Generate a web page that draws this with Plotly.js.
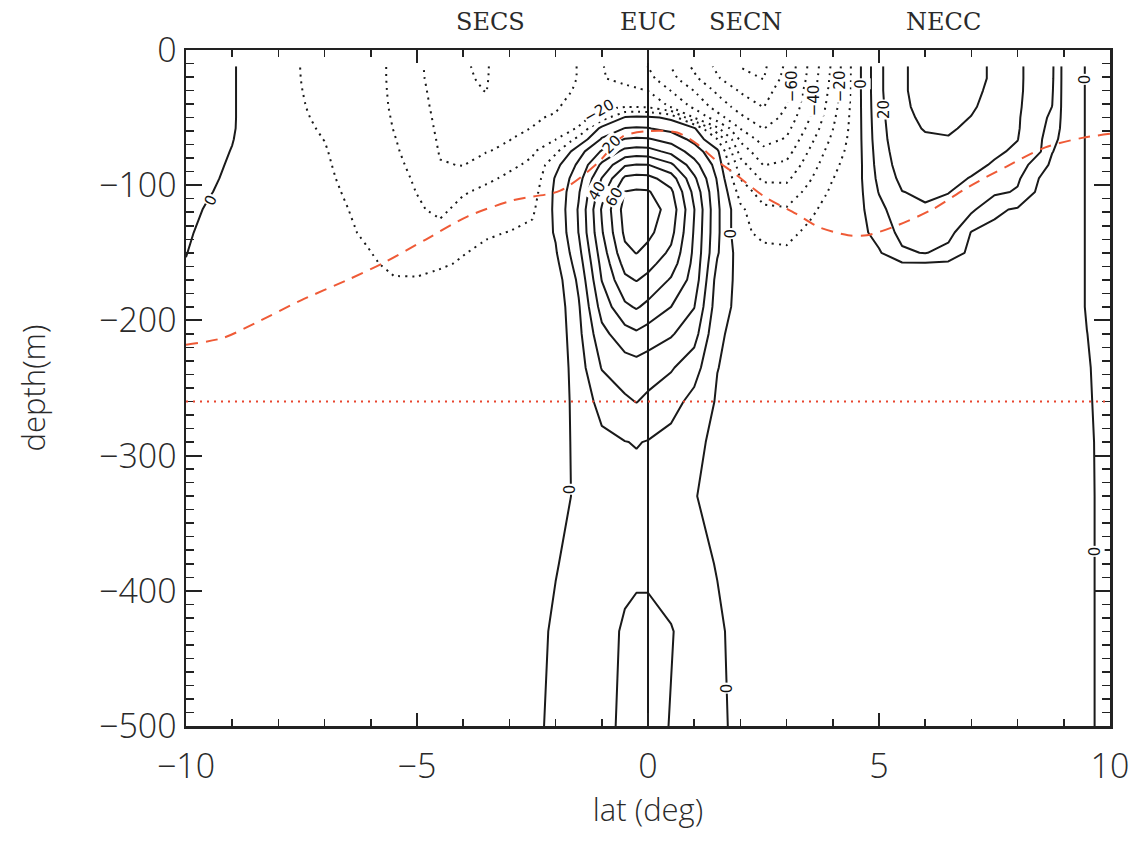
<!DOCTYPE html>
<html>
<head>
<meta charset="utf-8">
<script src="https://cdn.plot.ly/plotly-3.0.1.min.js"></script>
<style>
  html, body { margin: 0; padding: 0; background: #fff; }
  #chart { width: 1145px; height: 841px; }
</style>
</head>
<body>
<div id="chart"></div>
<script>
// Latitude of each grid column (deg) and depth of each grid row (m)
const lat = [-10, -9.5, -9, -8.5, -8, -7.5, -7, -6.5, -6, -5.5, -5, -4.5, -4, -3.5, -3, -2.5, -2, -1.5, -1, -0.5, -0.25,
             0, 0.5, 1, 1.5, 2, 2.5, 3, 3.5, 4, 4.5, 5, 5.5, 6, 6.5, 7, 7.5, 8, 8.5, 8.75, 9, 9.5, 10];
const depth = [-12, -21, -30, -42, -50, -58, -66, -75, -85, -95, -105, -118, -135, -150, -158, -170, -190,
               -210, -235, -260, -290, -330, -380, -430, -500];

// Zonal velocity (cm/s): one list per latitude, values from the top level down
const zonalVelocity = [
  [4, 4, 4, 4, 4, 4, 4, 4, 4, 4, 3, 2, 1, 0.2, -0.3, -1, -2, -3, -3, -3, -3, -3, -3, -3, -3],
  [3, 3, 3, 3, 3, 3, 3, 2.5, 2, 1.2, 0.4, -0.8, -2, -3, -3, -3, -3, -3, -3, -3, -3, -3, -3, -3, -3],
  [0.8, 0.8, 0.8, 0.8, 0.8, 0.7, 0.3, -0.3, -1, -1.5, -2, -2.5, -3, -3, -3, -3, -3, -3, -3, -3, -3, -3, -3, -3, -3],
  [-4, -4, -4, -4, -4, -4, -4, -4, -4, -4, -4, -4, -4, -3.5, -3.3, -3, -3, -3, -3, -3, -3, -3, -3, -3, -3],
  [-7, -7, -7, -7, -6.5, -6.5, -6, -6, -6, -5.5, -5, -5, -4.5, -4, -3.8, -3.5, -3, -3, -3, -3, -3, -3, -3, -3, -3],
  [-10.2, -10.1, -9.9, -9.6, -9.3, -9, -8.6, -8.2, -7.8, -7.4, -7, -6.5, -6, -5.5, -5.3, -5, -4.5, -4, -3.5, -3, -3, -3, -3, -3, -3],
  [-13, -12.8, -12.3, -11.7, -11.2, -10.6, -10.1, -9.5, -9, -8.5, -8, -7.5, -6.8, -6, -5.6, -5, -4.5, -4, -3.5, -3, -3, -3, -3, -3, -3],
  [-15, -15, -14.8, -14.5, -14.2, -13.8, -13.3, -12.8, -12.2, -11.6, -10.8, -9.9, -9, -8, -7.4, -6.5, -5.5, -4.5, -3.8, -3.2, -3, -3, -3, -3, -3],
  [-17, -17, -17, -16.8, -16.5, -16.2, -15.8, -15.3, -14.8, -14.2, -13.5, -12.7, -11.5, -9.9, -9.1, -8, -6.5, -5, -4, -3.2, -3, -3, -3, -3, -3],
  [-21.5, -21.5, -21.3, -21, -20.6, -20.2, -19.6, -19, -18.2, -17.4, -16.6, -15.6, -14.4, -13, -11.6, -9.5, -7.5, -5.5, -4.5, -3.5, -3, -3, -3, -3, -3],
  [-28, -27.8, -27, -26, -25.3, -24.6, -23.8, -23, -22, -21, -20.2, -18.8, -16.5, -13.5, -12, -9.5, -7, -5, -4, -3.3, -3, -3, -3, -3, -3],
  [-35, -34.5, -34, -33.3, -32.6, -32, -31.3, -30.6, -29.6, -28.3, -26.8, -22, -17, -13, -11, -8, -5.5, -4.5, -3.8, -3.3, -3, -3, -3, -3, -3],
  [-39.5, -39.2, -38.5, -37.5, -36.5, -35.2, -33.8, -32.2, -30.2, -27.5, -20.8, -17, -13, -10.3, -9.2, -7.5, -5.5, -4.5, -3.8, -3.3, -3, -3, -3, -3, -3],
  [-41, -40.8, -40.2, -38.5, -37, -35, -33, -30.3, -26.5, -21.5, -18, -14.5, -10.8, -8.5, -7.5, -6, -4.5, -4, -3.5, -3.2, -3, -3, -3, -3, -3],
  [-32, -32, -31.8, -31.5, -31.2, -30.8, -30.2, -28.5, -21.5, -18.5, -16.5, -14, -9.8, -7.5, -6.7, -5.5, -4.5, -4, -3.5, -3.2, -3, -3, -3, -3, -3],
  [-31.5, -31.3, -31, -30.8, -30.5, -29.9, -27.5, -21, -18.5, -16.5, -14, -11.5, -8, -6, -5.4, -4.5, -4, -3.8, -3.5, -3.2, -3, -3, -3, -3, -3],
  [-31, -31, -31, -30.6, -29.5, -26, -20.3, -12, -3, 1, 2, 2, 1, -1, -2.6, -5, -6.5, -7, -7, -7, -7, -6, -0.5, 1.4, 3],
  [-29.9, -29.9, -29.6, -27.5, -24, -19, -7, 6, 12, 16, 19, 21, 20.3, 17, 15, 12, 9, 7.5, 5.5, 4.5, 4, 3, 3, 5, 5],
  [-29.5, -29.3, -27, -22, -15, 3, 11, 21, 32, 40.3, 46, 51, 49, 45, 43, 40.3, 34, 27, 20.5, 13, 8, 5, 5.5, 7, 7],
  [-35, -33, -27, -20.3, 1, 10.3, 20.5, 33, 49, 62, 70.3, 74, 72, 67.5, 63.5, 58, 48, 36, 25, 18.5, 9.8, 7, 8, 11, 12],
  [-37.5, -35, -28.5, -20.6, 2.5, 11, 21.5, 34.5, 50.5, 63.5, 71.5, 77, 75, 70.3, 66, 60.5, 51, 38.4, 26, 20.3, 10.4, 7.2, 8.5, 12, 14.5],
  [-40.2, -37, -30.2, -21, 2, 10.5, 21, 34, 50.3, 63, 71, 75, 72.5, 67, 63, 57.5, 47.5, 35.5, 24.5, 18, 9.6, 7, 8.5, 12, 14],
  [-50.3, -47, -40.3, -31, -2, 7, 16, 27, 42, 55, 62, 66, 63, 58, 54.8, 49, 40, 31, 21, 13.5, 7, 4, 6, 10.5, 9.5],
  [-62, -58, -50.3, -42, -30.4, 1.5, 7, 15, 24, 32, 37, 40.3, 39, 38, 37.2, 36, 30.3, 24, 14, 7, 2, 0.3, 3, 6, 6],
  [-72, -69, -62, -54, -46, -28, -9.8, 2, 6, 9, 11, 12, 12, 11, 9, 6, 4.5, 1.5, 0.2, -1, -2, -2, -0.5, 1.5, 2.5],
  [-80.3, -77, -71, -64, -58, -50.3, -42, -34, -26, -20.3, -14, -8, -8, -5, -4.2, -3, -3, -3, -3, -3, -3, -3, -3, -3, -3],
  [-82, -80.3, -75, -70.3, -66, -60.3, -54, -47, -40.3, -32, -25, -18, -12, -8, -6.6, -4.5, -3.5, -3, -3, -3, -3, -3, -3, -3, -3],
  [-68, -66, -63, -59.7, -57, -53, -49, -44, -38, -32, -26, -19, -12.5, -8.5, -7.1, -5, -3.5, -3, -3, -3, -3, -3, -3, -3, -3],
  [-48, -47, -45, -43, -40.3, -37, -33, -29, -25, -21, -17, -12, -8, -5, -4.4, -3.5, -3, -3, -3, -3, -3, -3, -3, -3, -3],
  [-28, -27, -26, -24, -22, -20.3, -18, -15, -12, -10.2, -8, -6, -4.5, -3.5, -3.3, -3, -3, -3, -3, -3, -3, -3, -3, -3, -3],
  [-5, -5, -5, -5, -5, -5, -5, -5, -5, -4.5, -4.5, -4, -4, -3.5, -3.3, -3, -3, -3, -3, -3, -3, -3, -3, -3, -3],
  [18, 18, 18, 17.5, 17, 16.5, 16, 15, 14, 12.5, 10.5, 7, 3.5, -1, -3, -3, -3, -3, -3, -3, -3, -3, -3, -3, -3],
  [29, 29, 29, 28.5, 28, 27.5, 27, 26, 24.5, 22.5, 19.8, 16.5, 13, 8.5, -1, -3, -3, -3, -3, -3, -3, -3, -3, -3, -3],
  [33, 33, 33, 32.5, 31.5, 30.5, 29, 27.5, 25.5, 23.5, 21.5, 19, 14, 10.5, -1, -3, -3, -3, -3, -3, -3, -3, -3, -3, -3],
  [33.5, 33.5, 33.3, 32.8, 32, 31, 29.5, 27.5, 25, 22.5, 20.3, 17, 14, 6, -1.5, -3, -3, -3, -3, -3, -3, -3, -3, -3, -3],
  [32, 32, 31.5, 30.8, 29.8, 28.5, 27, 25, 22.5, 19.5, 16.5, 12, -0.5, -2.5, -3, -3, -3, -3, -3, -3, -3, -3, -3, -3, -3],
  [29, 29, 28.5, 27.5, 26.5, 25, 23.5, 21.5, 19, 15.5, 12, 1.5, -2, -3, -3, -3, -3, -3, -3, -3, -3, -3, -3, -3, -3],
  [22, 22, 22, 21.5, 21, 20.8, 20.2, 18.5, 15, 11.5, 9, -1, -2.5, -3, -3, -3, -3, -3, -3, -3, -3, -3, -3, -3, -3],
  [14, 14, 13.5, 13, 12.5, 12, 11, 10.2, 4, -1, -3, -3, -3, -3, -3, -3, -3, -3, -3, -3, -3, -3, -3, -3, -3],
  [11.5, 11.3, 10.8, 9.9, 8, 6, 3, 0.3, -2, -3, -3, -3, -3, -3, -3, -3, -3, -3, -3, -3, -3, -3, -3, -3, -3],
  [-3, -3, -3, -3, -3, -3, -3, -3, -3, -3, -3, -3, -3, -3, -3, -3, -3, -3, -3, -3, -3, -3, -3, -3, -3],
  [0.3, 0.3, 0.3, 0.3, 0.3, 0.3, 0.3, 0.3, 0.3, 0.3, 0.3, 0.3, 0.3, 0.3, 0.3, 0.3, 0.3, -0.05, -0.4, -0.6, -0.9, -1, -1, -1, -1],
  [2, 2, 2, 2, 2, 2, 2, 2, 2, 2, 2, 2, 2, 2, 2, 2, 2, 2, 2, 2, 2, 2, 2, 2, 2]
];

// Contour interval (cm/s); eastward levels are solid, westward levels dotted
const contourStep = 10;
const eastLevels = { start: 0, end: 80 };
const westLevels = { start: -90, end: -10 };

// Contour labels: level shown, where it sits on that contour, and the text angle
const labelLevel = [0, -20, 20, 40, 60, 0, 0, 0, -60, -40, -20, 0, 20, 0, 0];
const labelLat = [-9.46, -1.06, -0.8, -1.11, -0.73, 1.79, -1.67, 1.71, 3.11, 3.6, 4.15, 4.61, 5.12, 9.45, 9.67];
const labelDepth = [-111, -45, -70, -104, -109, -136, -325, -472, -27, -37, -27, -25, -44, -22, -371];
const labelAngle = [-65, -30, -45, -60, -60, -90, -90, -90, -90, -90, -90, -90, -90, -90, -90];

// Depth of the thermocline (dashed red curve)
const thermoLat = [-10, -9.2, -8.5, -7.5, -6.5, -5.7, -4.8, -3.9, -2.9, -1.9, -1.1, -0.55, 0, 0.63, 1.04,
                   1.45, 1.86, 2.5, 3.2, 3.7, 4.33, 4.74, 5.3, 6.15, 6.95, 7.77, 8.6, 9.4, 10];
const thermoDepth = [-218, -213, -202, -185, -170, -157, -140, -123, -111, -104, -84, -64, -60, -61, -69,
                     -81, -91, -108, -121, -131, -137, -137, -131, -118, -101, -86, -72, -65, -62];

// Reference depth (dotted red line)
const refDepth = -260;

// Current names written above the frame
const currentNames = ['SECS', 'EUC', 'SECN', 'NECC'];
const currentLat = [-3.4, 0, 2.1, 6.4];

function contourTrace(levels, dash) {
  return {
    type: 'contour',
    x: lat,
    y: depth,
    z: zonalVelocity,
    transpose: true,
    autocontour: false,
    contours: { start: levels.start, end: levels.end, size: contourStep, coloring: 'none', showlabels: false },
    line: { color: '#1a1a1a', width: 2, dash: dash, smoothing: 0 },
    showscale: false,
    hoverinfo: 'skip'
  };
}

const traces = [
  contourTrace(eastLevels, 'solid'),
  contourTrace(westLevels, '2px,5px'),
  {
    type: 'scatter',
    mode: 'lines',
    x: thermoLat,
    y: thermoDepth,
    line: { color: '#ef5a36', width: 2, dash: '12px,8px', shape: 'spline', smoothing: 0.8 },
    hoverinfo: 'skip',
    showlegend: false
  }
];

const tickFont = { family: 'Open Sans, DejaVu Sans, sans-serif', size: 34, color: '#2a2a2a', weight: 300 };
const titleFont = { family: 'Open Sans, DejaVu Sans, sans-serif', size: 31, color: '#2a2a2a', weight: 300 };

const nameAnnotations = currentNames.map((name, i) => ({
  text: name,
  x: currentLat[i],
  xref: 'x',
  y: 1.041,
  yref: 'paper',
  showarrow: false,
  xanchor: 'center',
  yanchor: 'middle',
  font: { family: 'DejaVu Serif, Liberation Serif, serif', size: 24, color: '#2a2a2a' }
}));

const levelAnnotations = labelLevel.map((level, i) => ({
  text: level < 0 ? '\u2212' + Math.abs(level) : String(level),
  x: labelLat[i],
  y: labelDepth[i],
  xref: 'x',
  yref: 'y',
  showarrow: false,
  textangle: labelAngle[i],
  bgcolor: '#ffffff',
  borderpad: 0,
  font: { family: 'DejaVu Sans, sans-serif', size: 15, color: '#111' }
}));

const layout = {
  width: 1145,
  height: 841,
  margin: { l: 186, r: 35, t: 50, b: 115 },
  paper_bgcolor: '#ffffff',
  plot_bgcolor: '#ffffff',
  showlegend: false,
  xaxis: {
    range: [-10, 10],
    tickvals: [-10, -5, 0, 5, 10],
    ticks: 'inside',
    ticklen: 13,
    tickwidth: 2,
    tickcolor: '#222',
    minor: { dtick: 1, tick0: 0, ticks: 'inside', ticklen: 7, tickwidth: 1.5, tickcolor: '#222' },
    showline: true,
    linewidth: 2.5,
    linecolor: '#222',
    mirror: 'allticks',
    showgrid: false,
    zeroline: true,
    zerolinecolor: '#1a1a1a',
    zerolinewidth: 1.6,
    tickfont: tickFont,
    ticklabelstandoff: 9,
    title: { text: 'lat (deg)', font: titleFont, standoff: 6 }
  },
  yaxis: {
    range: [-500, 0],
    tick0: 0,
    dtick: 100,
    ticks: 'inside',
    ticklen: 16,
    tickwidth: 2,
    tickcolor: '#222',
    minor: { dtick: 10, tick0: 0, ticks: 'inside', ticklen: 8, tickwidth: 1.5, tickcolor: '#222' },
    showline: true,
    linewidth: 2.5,
    linecolor: '#222',
    mirror: 'allticks',
    showgrid: false,
    zeroline: false,
    tickfont: tickFont,
    title: { text: 'depth(m)', font: titleFont, standoff: 44 }
  },
  shapes: [{
    type: 'line',
    xref: 'paper', x0: 0, x1: 1,
    yref: 'y', y0: refDepth, y1: refDepth,
    line: { color: '#e8452e', width: 2, dash: '2px,5px' }
  }],
  annotations: nameAnnotations.concat(levelAnnotations)
};

Plotly.newPlot('chart', traces, layout, { staticPlot: true, displayModeBar: false });
</script>
</body>
</html>
